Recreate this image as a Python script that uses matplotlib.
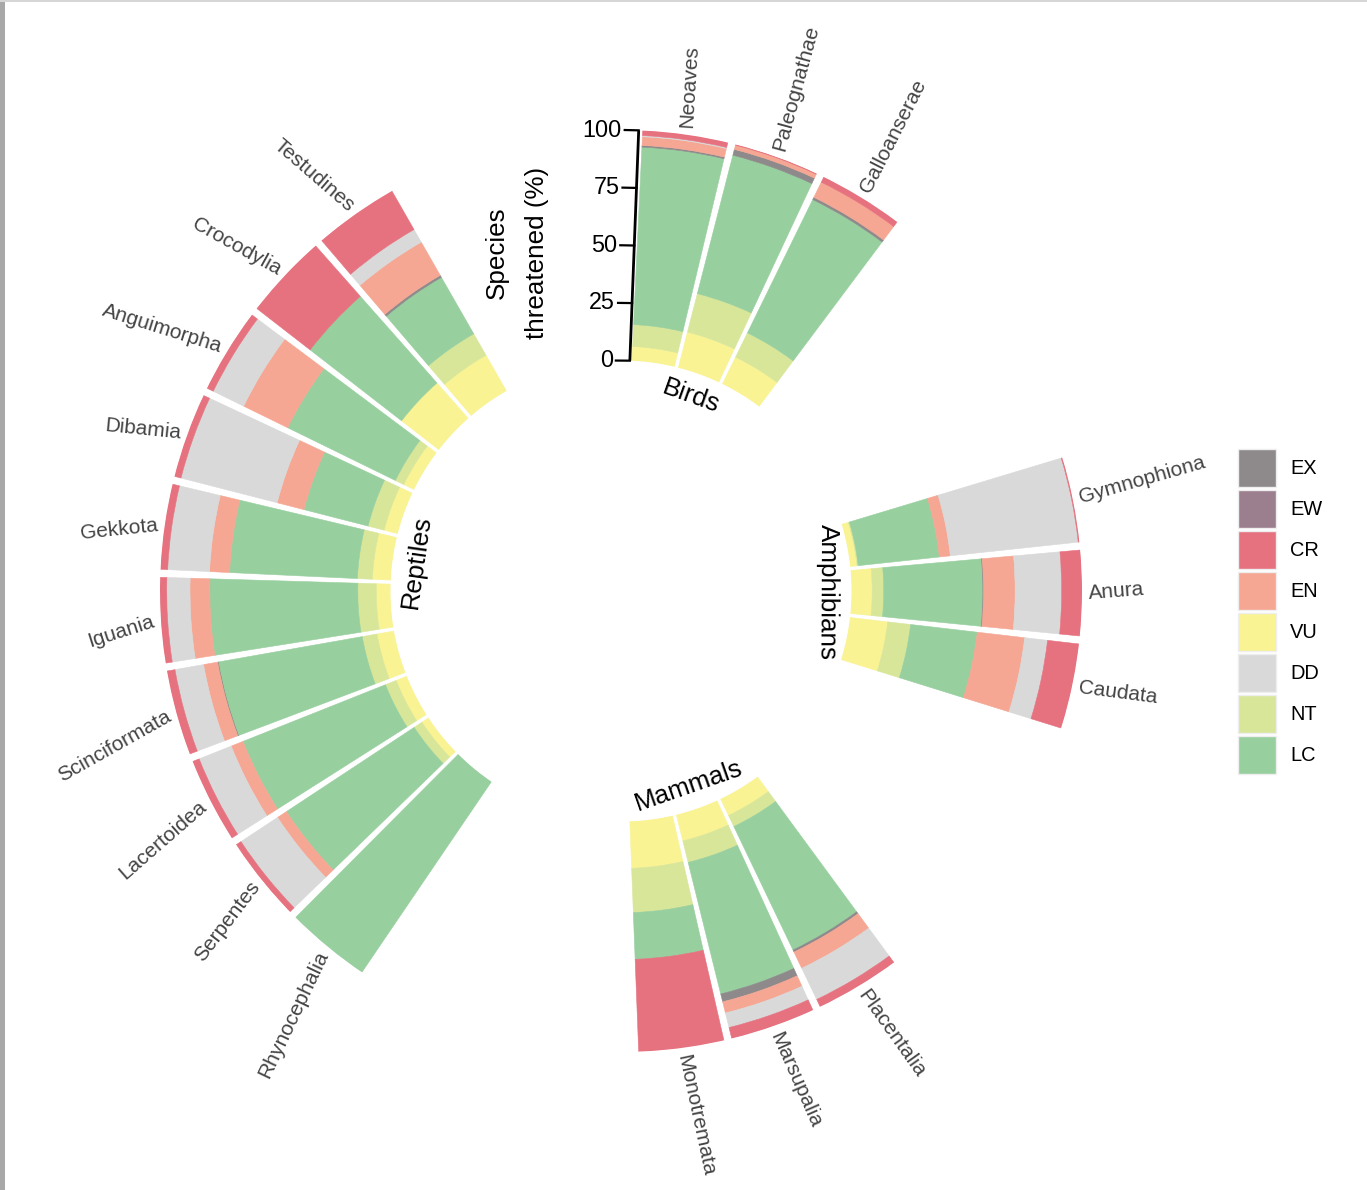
import matplotlib
matplotlib.use("Agg")
import matplotlib.pyplot as plt
import numpy as np
from matplotlib.patches import Patch, Rectangle

# ---- data: share of species (%) per IUCN category, clockwise from the top ----
groups = ["Birds", "Amphibians", "Mammals", "Reptiles"]
birds = ["Neoaves", "Paleognathae", "Galloanserae"]
amphibians = ["Gymnophiona", "Anura", "Caudata"]
mammals = ["Placentalia", "Marsupalia", "Monotremata"]
reptiles = ["Rhynocephalia", "Serpentes", "Lacertoidea", "Scinciformata", "Iguania",
            "Gekkota", "Dibamia", "Anguimorpha", "Crocodylia", "Testudines"]
members = [birds, amphibians, mammals, reptiles]
clades = birds + amphibians + mammals + reptiles

#      Neo   Pal   Gal   Gym   Anu   Cau   Pla   Mar   Mon   Rhy  Ser   Lac   Sci   Igu   Gek   Dib   Ang   Cro   Tes
vu = [6.2, 16.0, 13.0, 3.0, 9.0, 16.5, 8.0, 11.7, 20.4, 0, 3.5, 5.0, 7.5, 6.2, 8.0, 6.1, 5.0, 20.5, 17.9]
nt = [9.5, 17.2, 11.7, 0.5, 5.0, 10.0, 5.3, 9.6, 19.2, 0, 4.0, 5.0, 6.5, 8.0, 6.5, 7.2, 4.0, 0, 10.7]
lc = [77.1, 62.0, 64.4, 35.4, 43.0, 29.1, 59.4, 58.8, 20.3, 100, 66.4, 66.5, 63.4, 64.2, 55.5, 28.7, 52.0, 50.2, 28.2]
ex = [0.7, 2.6, 1.1, 0, 0.3, 0, 1.0, 3.5, 0, 0, 0, 0, 0.3, 0, 0, 0, 0, 0, 1.0]
ew = [0, 0, 0, 0, 0, 0, 0, 0, 0, 0, 0, 0, 0, 0, 0, 0, 0, 0, 0]
en = [3.8, 1.9, 7.3, 4.8, 13.7, 20.7, 7.8, 5.0, 0, 0, 4.6, 5.5, 6.2, 8.6, 8.7, 12.0, 21.3, 0, 16.6]
dd = [0.5, 0, 0, 55.8, 20.2, 10.0, 15.0, 6.5, 0, 0, 19.0, 15.0, 12.6, 10.1, 18.2, 43.1, 14.7, 0, 6.3]
cr = [2.2, 0.3, 2.5, 0.5, 8.8, 13.7, 3.5, 4.9, 40.1, 0, 2.5, 3.0, 3.5, 2.9, 3.1, 2.9, 3.0, 29.3, 19.3]

status = {"VU": vu, "NT": nt, "LC": lc, "EX": ex, "EW": ew, "EN": en, "DD": dd, "CR": cr}
stack_order = ["VU", "NT", "LC", "EX", "EW", "EN", "DD", "CR"]   # inner -> outer
legend_order = ["EX", "EW", "CR", "EN", "VU", "DD", "NT", "LC"]
colors = {"EX": "#8e8a8b", "EW": "#9b7f8e", "CR": "#e6717f", "EN": "#f5a793",
          "VU": "#f9f394", "DD": "#d9d9d9", "NT": "#d8e69a", "LC": "#97cf9e"}

plt.rcParams['font.family'] = ['Liberation Sans', 'DejaVu Sans']

W, H = 1367, 1190
fig = plt.figure(figsize=(W / 100, H / 100), dpi=100)

# polar axes: centre and outer radius in pixels
cx, cy, R = 621, 591, 461
ax = fig.add_axes([(cx - R) / W, (H - cy - R) / H, 2 * R / W, 2 * R / H], projection='polar')
ax.set_theta_zero_location('N')
ax.set_theta_direction(-1)
ax.set_ylim(0, 100)
ax.set_rorigin(-100)
ax.set_axis_off()
px = R / 200.0   # pixels per radial unit

START, SLOT, GROUP_GAP, PAD = 2.2, 11.7, 35.4, 1.0
theta_c = []
pos = START
for grp in members:
    for _ in grp:
        theta_c.append(pos + SLOT / 2)
        pos += SLOT
    pos += GROUP_GAP
theta_c = np.array(theta_c)
th_rad = np.deg2rad(theta_c)

bottom = np.zeros(len(clades))
for key in stack_order:
    vals = np.array(status[key], dtype=float)
    m = vals > 0
    ax.bar(th_rad[m], vals[m], width=np.deg2rad(SLOT - PAD), bottom=bottom[m],
           color=colors[key], edgecolor=colors[key], linewidth=0.4, align='center')
    bottom += vals

# clade labels
for name, th in zip(clades, theta_c):
    if th < 180:
        rot, ha = 90 - th + 4.5, 'left'
    else:
        rot, ha = 270 - th + 14, 'right'
    ax.text(np.deg2rad(th), 103, name, rotation=rot, rotation_mode='anchor',
            ha=ha, va='center', fontsize=15, color='#444444')

# group labels, at the middle bar of each group
i = 0
for g, grp in zip(groups, members):
    th = theta_c[i + len(grp) // 2]
    rot = 180 - th if 100 < th < 260 else -th
    ax.text(np.deg2rad(th), -10.5, g, rotation=rot, rotation_mode='anchor',
            ha='center', va='center', fontsize=18.7, color='black')
    i += len(grp)

# radial axis along the start of the first group
ticks = [0, 25, 50, 75, 100]
a0 = np.deg2rad(START)
ax.plot([a0, a0], [0, 100], color='black', lw=2, solid_capstyle='butt', clip_on=False)
for t in ticks:
    rpx = (t + 100) * px
    ax.plot([a0, a0 - 14 / rpx], [t, t], color='black', lw=1.6, clip_on=False)
    ax.text(a0 - 17 / rpx, t, str(t), ha='right', va='center', fontsize=16.8, color='black')

fig.text(497 / W, 1 - 253 / H, "Species", rotation=90, ha='center', va='center', fontsize=18.7)
fig.text(537 / W, 1 - 253 / H, "threatened (%)", rotation=90, ha='center', va='center', fontsize=18.7)

handles = [Patch(facecolor=colors[k], edgecolor='#eeeeee', linewidth=1) for k in legend_order]
fig.legend(handles, legend_order, loc='upper left', bbox_to_anchor=(1238 / W, 1 - 449 / H),
           frameon=False, fontsize=14.4, handlelength=1.9, handleheight=2.55,
           handletextpad=0.7, labelspacing=0.15, borderpad=0, borderaxespad=0)

# page edges seen in the screenshot
fig.add_artist(Rectangle((0, 0), 5 / W, 1, transform=fig.transFigure, facecolor='#a8a8a8', edgecolor='none'))
fig.add_artist(Rectangle((0, 1 - 1.5 / H), 1, 1.5 / H, transform=fig.transFigure, facecolor='#d6d6d6', edgecolor='none'))

fig.savefig('out.png', dpi=100)
